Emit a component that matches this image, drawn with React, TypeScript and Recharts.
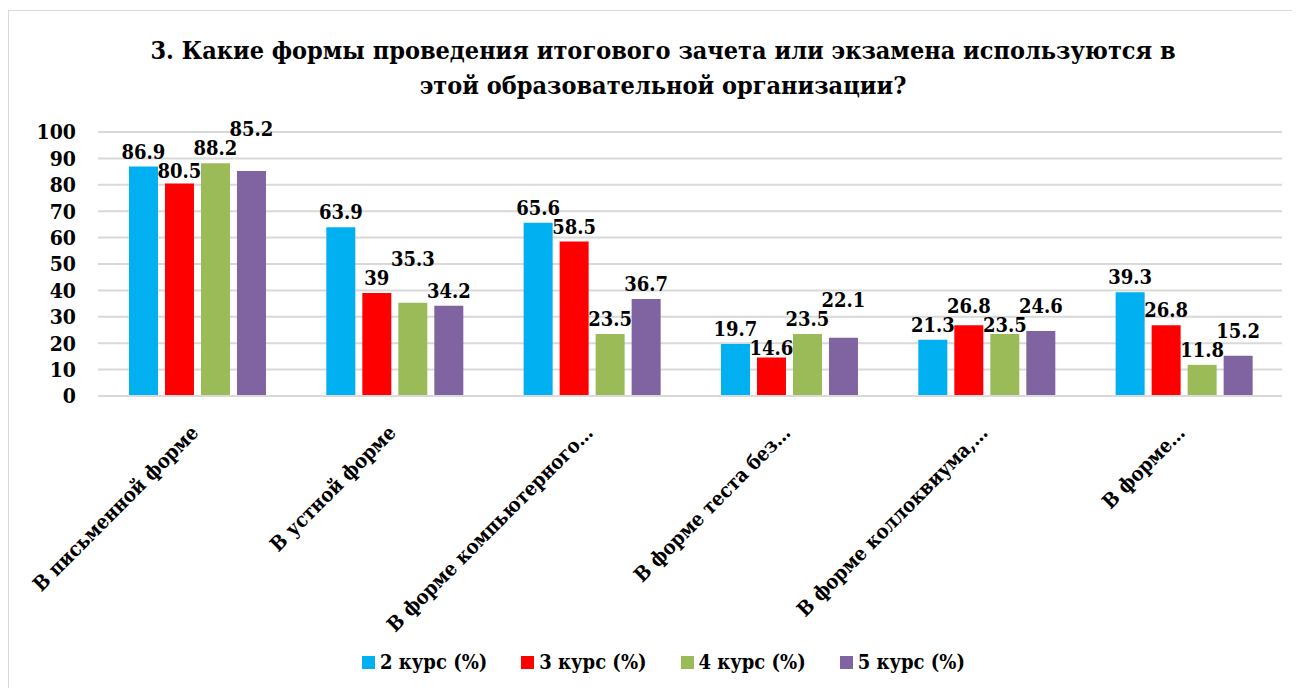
import React from "react"
import { BarChart, Bar, XAxis, YAxis, CartesianGrid, Legend, LabelList } from "recharts"

const categories = [
  "В письменной форме",
  "В устной форме",
  "В форме компьютерного…",
  "В форме теста без…",
  "В форме коллоквиума,…",
  "В форме…",
]
const kurs2 = [86.9, 63.9, 65.6, 19.7, 21.3, 39.3]
const kurs3 = [80.5, 39, 58.5, 14.6, 26.8, 26.8]
const kurs4 = [88.2, 35.3, 23.5, 23.5, 23.5, 11.8]
const kurs5 = [85.2, 34.2, 36.7, 22.1, 24.6, 15.2]
const yTicks = [0, 10, 20, 30, 40, 50, 60, 70, 80, 90, 100]

const seriesValues = [kurs2, kurs3, kurs4, kurs5]

const series = [
  { key: "k2", name: "2 курс (%)", color: "#00b0f0" },
  { key: "k3", name: "3 курс (%)", color: "#ff0000" },
  { key: "k4", name: "4 курс (%)", color: "#9bbb59" },
  { key: "k5", name: "5 курс (%)", color: "#8064a2" },
]

const data = categories.map((c, i) => ({
  name: c,
  k2: kurs2[i],
  k3: kurs3[i],
  k4: kurs4[i],
  k5: kurs5[i],
}))

const FONT = '"DejaVu Serif Condensed", "DejaVu Serif", serif'

// labels of neighbouring bars collide, so step them up/down like Excel does
function makeLabel(si: number) {
  return (props: any) => {
    const { x, y, width, height, value, index } = props
    const zeroY = y + height
    const k = height / value
    const gap = 8
    const h = 19
    let prev = 0
    let cur = 0
    for (let s = 0; s <= si; s++) {
      const top = zeroY - seriesValues[s][index] * k
      let ly = top - gap
      if (s > 0 && Math.abs(ly - prev) < h) {
        const below = prev + h
        ly = below <= top - 2 ? below : prev - h
      }
      prev = ly
      cur = ly
    }
    return (
      <text x={x + width / 2} y={cur} textAnchor="middle" fontFamily={FONT} fontWeight="bold" fontSize={20} fill="#000">
        {value}
      </text>
    )
  }
}

function CategoryTick(props: any) {
  const { x, y, payload } = props
  return (
    <g transform={`translate(${x + 3}, ${y + 30})`}>
      <text
        x={0}
        y={0}
        textAnchor="end"
        transform="rotate(-45)"
        fontFamily={FONT}
        fontWeight="bold"
        fontSize={20}
        fill="#000"
      >
        {payload.value}
      </text>
    </g>
  )
}

function LegendContent() {
  return (
    <div style={{ height: 30, display: "flex", justifyContent: "center", alignItems: "center", gap: 34, paddingLeft: 36, fontFamily: FONT, fontWeight: "bold", fontSize: 20 }}>
      {series.map((s) => (
        <div key={s.key} style={{ display: "flex", alignItems: "center" }}>
          <span style={{ width: 13, height: 13, background: s.color, marginRight: 5, display: "inline-block" }} />
          <span>{s.name}</span>
        </div>
      ))}
    </div>
  )
}

export default function App() {
  return (
    <div style={{ position: "relative", width: 1288, height: 680, marginTop: 2, border: "1px solid #d9d9d9", background: "#fff" }}>
      <div
        style={{
          position: "absolute",
          left: 0,
          width: 1288,
          top: 22,
          textAlign: "center",
          fontFamily: FONT,
          fontWeight: "bold",
          fontSize: 25,
          lineHeight: "35px",
          whiteSpace: "nowrap",
          paddingLeft: 20,
          boxSizing: "border-box",
        }}
      >
        3. Какие формы проведения итогового зачета или экзамена используются в
        <br />
        этой образовательной организации?
      </div>
      <BarChart
        width={1288}
        height={680}
        data={data}
        margin={{ top: 121, right: 15, left: 0, bottom: 14 }}
        barCategoryGap="15.7%"
        barGap={7}
      >
        <CartesianGrid vertical={false} stroke="#d9d9d9" strokeWidth={2} />
        <XAxis
          dataKey="name"
          interval={0}
          height={251}
          tickLine={false}
          axisLine={{ stroke: "#d9d9d9", strokeWidth: 2 }}
          tick={<CategoryTick />}
        />
        <YAxis
          width={89}
          domain={[0, 100]}
          ticks={yTicks}
          interval={0}
          axisLine={false}
          tickLine={false}
          tickSize={0}
          tickMargin={22}
          tick={{ fontFamily: FONT, fontWeight: "bold", fontSize: 21, fill: "#000" }}
        />
        <Legend verticalAlign="bottom" content={<LegendContent />} />
        {series.map((s, si) => (
          <Bar key={s.key} dataKey={s.key} name={s.name} fill={s.color} isAnimationActive={false}>
            <LabelList dataKey={s.key} content={makeLabel(si)} />
          </Bar>
        ))}
      </BarChart>
    </div>
  )
}
